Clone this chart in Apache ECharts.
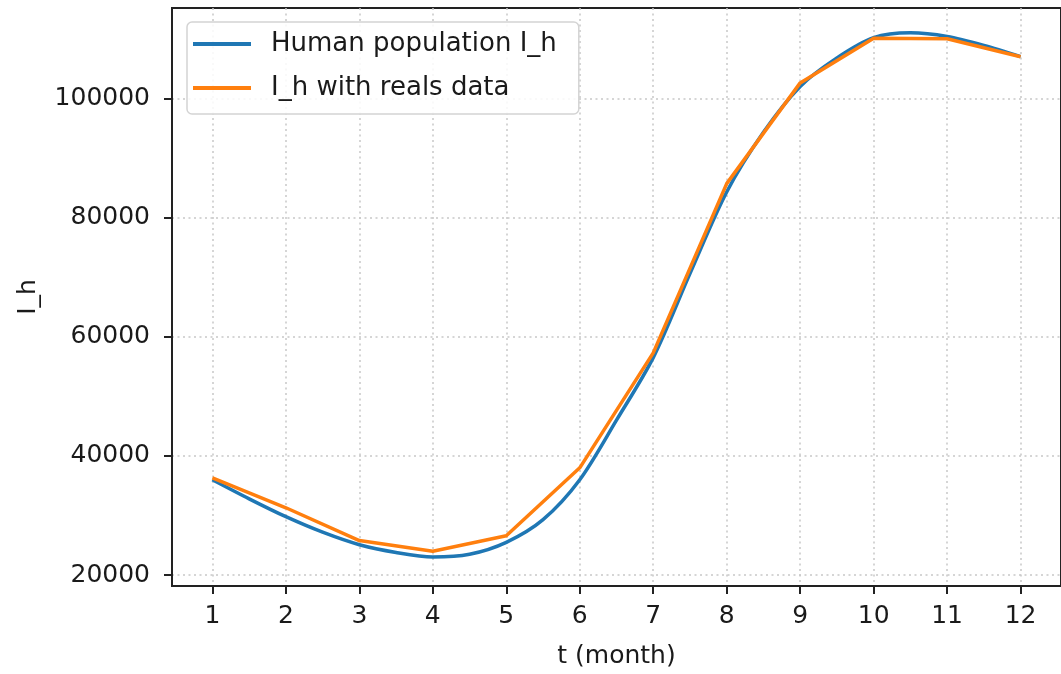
<!DOCTYPE html>
<html>
<head>
<meta charset="utf-8">
<script src="https://cdn.jsdelivr.net/npm/echarts@6/dist/echarts.min.js"></script>
<style>
  html, body { margin: 0; padding: 0; background: #fff; }
  #chart { width: 1061px; height: 674px; }
</style>
</head>
<body>
<div id="chart"></div>
<script>
// months (x) and values
const modelMonths = [1, 1.5, 2, 2.5, 3, 3.5, 4, 4.5, 5, 5.5, 6, 6.5, 7, 7.5, 8, 8.5, 9, 9.5, 10, 10.5, 11, 11.5, 12];
const modelValues = [36000, 32800, 29800, 27200, 25100, 23800, 23050, 23500, 25500, 29300, 36000, 46000, 56500, 70600, 84300, 94300, 102000, 106800, 110200, 111000, 110400, 108900, 107000];

const realMonths = [1, 2, 3, 4, 5, 6, 7, 8, 9, 10, 11, 12];
const realValues = [36300, 31300, 25800, 24000, 26600, 38000, 57300, 85700, 102600, 110100, 110000, 107000];

const xTicks = [1, 2, 3, 4, 5, 6, 7, 8, 9, 10, 11, 12];
const yTicks = [20000, 40000, 60000, 80000, 100000];

const pair = (xs, ys) => xs.map((x, i) => [x, ys[i]]);

const font = "DejaVu Sans";
const ink = "#1a1a1a";
const myChart = echarts.init(document.getElementById("chart"));

// dotted grid like matplotlib ':' style
const gridLine = {
  show: true,
  lineStyle: { color: "#c8c8c8", type: [2, 3.5], width: 1.5 },
};

const option = {
  animation: false,
  textStyle: { fontFamily: font },
  grid: {
    left: 172,
    top: 8,
    width: 892,
    height: 582,
    show: true,
    borderColor: "#222",
    borderWidth: 2,
    backgroundColor: "#fff",
  },
  legend: {
    orient: "vertical",
    left: 187,
    top: 22,
    padding: [9, 22, 13, 6],
    itemWidth: 58,
    itemHeight: 4,
    itemGap: 18,
    backgroundColor: "rgba(255,255,255,0.85)",
    borderColor: "#d4d4d4",
    borderWidth: 1.5,
    borderRadius: 5,
    icon: "rect",
    textStyle: { fontFamily: font, fontSize: 26, lineHeight: 25, color: ink, padding: [0, 0, 0, 15] },
    data: ["Human population I_h", "I_h with reals data"],
  },
  xAxis: {
    type: "value",
    min: 0.45,
    max: 12.55,
    name: "t (month)",
    nameLocation: "middle",
    nameGap: 58,
    nameTextStyle: { fontFamily: font, fontSize: 25, color: ink },
    axisLine: { show: true, lineStyle: { color: "#222", width: 2 } },
    axisTick: { show: true, length: 8, inside: false, customValues: xTicks, lineStyle: { color: "#222", width: 2 } },
    axisLabel: { customValues: xTicks, fontFamily: font, fontSize: 25, color: ink, margin: 18 },
    splitLine: gridLine,
  },
  yAxis: {
    type: "value",
    min: 18170,
    max: 115170,
    name: "I_h",
    nameLocation: "middle",
    nameGap: 131,
    nameRotate: 90,
    nameTextStyle: { fontFamily: font, fontSize: 25, color: ink },
    axisLine: { show: true, lineStyle: { color: "#222", width: 2 } },
    axisTick: { show: true, length: 8, inside: false, customValues: yTicks, lineStyle: { color: "#222", width: 2 } },
    axisLabel: {
      customValues: yTicks,
      fontFamily: font,
      fontSize: 25,
      color: ink,
      margin: 22,
      formatter: (v) => String(v),
    },
    splitLine: gridLine,
  },
  series: [
    {
      name: "Human population I_h",
      type: "line",
      data: pair(modelMonths, modelValues),
      smooth: 0.3,
      showSymbol: false,
      lineStyle: { color: "#1f77b4", width: 3.5 },
      itemStyle: { color: "#1f77b4" },
    },
    {
      name: "I_h with reals data",
      type: "line",
      data: pair(realMonths, realValues),
      showSymbol: false,
      lineStyle: { color: "#ff7f0e", width: 3.5 },
      itemStyle: { color: "#ff7f0e" },
    },
  ],
};

myChart.setOption(option);
window.addEventListener("resize", myChart.resize);
</script>
</body>
</html>
